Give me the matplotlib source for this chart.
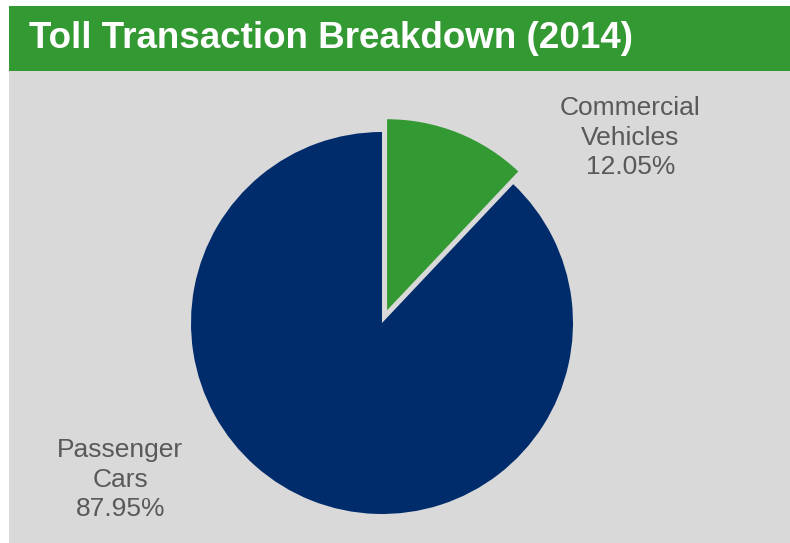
import matplotlib.pyplot as plt
from matplotlib import font_manager
from matplotlib.patches import Rectangle

categories = ['Passenger\nCars', 'Commercial\nVehicles']
shares = [87.95, 12.05]
colors = ['#002C6C', '#339933']
title = 'Toll Transaction Breakdown (2014)'

names = {f.name for f in font_manager.fontManager.ttflist}
if 'Liberation Sans Narrow' in names:
    title_font, title_size = 'Liberation Sans Narrow', 29
else:
    title_font, title_size = 'Liberation Sans', 26.5
plt.rcParams['font.family'] = ['Liberation Sans', 'DejaVu Sans']

W, H = 790, 543
fig = plt.figure(figsize=(W / 100, H / 100), dpi=100)
fig.patch.set_facecolor('white')

# gray panel and green header band
fig.patches.append(Rectangle((9 / W, 0), 1, (H - 71) / H, transform=fig.transFigure,
                             facecolor='#D9D9D9', edgecolor='none', zorder=-2))
fig.patches.append(Rectangle((9 / W, (H - 71) / H), 1, 65 / H, transform=fig.transFigure,
                             facecolor='#339933', edgecolor='none', zorder=-2))
fig.text(29 / W, (H - 39) / H, title, color='white', fontsize=title_size,
         fontweight='bold', family=title_font, va='center', ha='left')

# pie axes: center (382, 323) px, radius 191 px
r = 191
k = 1.3
cx, cy = 382, H - 323
ax = fig.add_axes([(cx - k * r) / W, (cy - k * r) / H, 2 * k * r / W, 2 * k * r / H])
ax.set_zorder(2)
ax.patch.set_alpha(0)
ax.pie(shares, colors=colors, startangle=90, counterclock=True,
       explode=[0, 0.072], wedgeprops=dict(linewidth=0))
ax.set_xlim(-k, k)
ax.set_ylim(-k, k)
ax.set_aspect('equal')
ax.axis('off')

# labels
label_pos = [(-1.37, -0.82), (1.30, 0.97)]
for name, val, (x, y) in zip(categories, shares, label_pos):
    ax.text(x, y, f'{name}\n{val:.2f}%', ha='center', va='center',
            fontsize=19, color='#595959', linespacing=1.3)

fig.savefig('out.png', dpi=100)
